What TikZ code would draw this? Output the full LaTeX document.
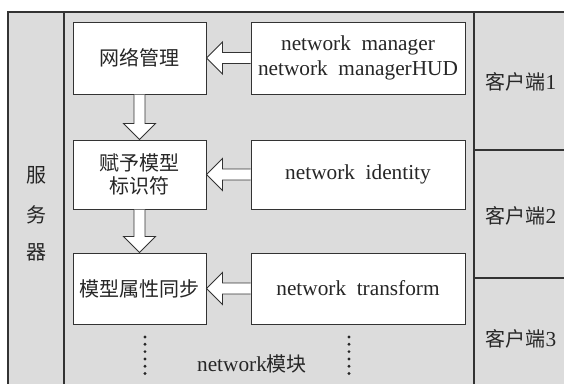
\documentclass[tikz,border=0pt]{standalone}
\usepackage{fontspec}
\setmainfont{Liberation Serif}
\newfontfamily\cjk{Noto Sans CJK SC}
\usetikzlibrary{calc}
\definecolor{bggray}{HTML}{DCDCDC}
\definecolor{edge}{HTML}{333333}
\tikzset{
  every node/.style={font=\fontsize{20}{25}\selectfont, text=black!85},
  box/.style={draw=edge, line width=1pt, fill=white, inner sep=0pt, align=center},
  latin/.style={font=\fontsize{21.3}{25}\selectfont},
  lbl/.style={inner sep=0pt, align=center},
  fat/.style={draw=edge, line width=0.9pt, fill=white, line join=miter},
}
\newcommand\fatarrow[2]{%
  \path let \p1=(#1), \p2=(#2), \n1={atan2(\y2-\y1,\x2-\x1)}, \n2={veclen(\x2-\x1,\y2-\y1)} in
    [shift={(\p1)}, rotate=\n1]
    [fat] (0pt,5.5pt) -- ({\n2-16pt},5.5pt) -- ({\n2-16pt},16pt) -- (\n2,0pt)
      -- ({\n2-16pt},-16pt) -- ({\n2-16pt},-5.5pt) -- (0pt,-5.5pt);
}
\begin{document}
\begin{tikzpicture}[x=1pt, y=-1pt]
\useasboundingbox (0,0) rectangle (564,383);
\clip (0,0) rectangle (564,383);
% background frame
\fill[bggray] (8,12) rectangle (575,395);
\draw[edge, line width=1.3pt] (8,395) -- (8,12) -- (575,12);
\draw[edge, line width=1.3pt] (64,12) -- (64,395);
\draw[edge, line width=1.3pt] (474,12) -- (474,395);
\draw[edge, line width=1.1pt] (474,150) -- (575,150);
\draw[edge, line width=1.1pt] (474,278) -- (575,278);

% server label
\node[lbl] (srv1) at (36,175) {\cjk 服};
\node[lbl] (srv2) at (36,215) {\cjk 务};
\node[lbl] (srv3) at (36,252) {\cjk 器};

% client labels
\node[lbl] (c1) at (521,82) {{\cjk 客户端}{\fontsize{21.3}{25}\selectfont 1}};
\node[lbl] (c2) at (521,216) {{\cjk 客户端}{\fontsize{21.3}{25}\selectfont 2}};
\node[lbl] (c3) at (521,339) {{\cjk 客户端}{\fontsize{21.3}{25}\selectfont 3}};

% left boxes
\node[box, minimum width=133pt, minimum height=72pt] (l1) at (139.5,58) {\cjk 网络管理};
\node[box, minimum width=133pt, minimum height=69pt] (l2) at (139.5,174.5) {\cjk 赋予模型\\[-2pt]\cjk 标识符};
\node[box, minimum width=133pt, minimum height=71pt] (l3) at (139.5,288.5) {\cjk 模型属性同步};

% right boxes
\node[box, latin, minimum width=214pt, minimum height=72pt] (r1) at (358,58) {network\ \ manager\\network\ \ managerHUD};
\node[box, latin, minimum width=214pt, minimum height=69pt] (r2) at (358,174.5) {network\ \ identity};
\node[box, latin, minimum width=214pt, minimum height=71pt] (r3) at (358,288.5) {network\ \ transform};

% arrows
\fatarrow{l1.south}{l2.north}
\fatarrow{l2.south}{l3.north}
\fatarrow{r1.west}{l1.east}
\fatarrow{r2.west}{l2.east}
\fatarrow{r3.west}{l3.east}

% ellipsis dots
\foreach \i in {0,...,5} {
  \fill[black!85] (145,{337+7.3*\i}) circle (1.6pt);
  \fill[black!85] (349,{337+7.3*\i}) circle (1.6pt);
}
\node[lbl, latin] (mod) at (252,364) {network{\fontsize{20}{25}\selectfont\cjk 模块}};
\end{tikzpicture}
\end{document}
